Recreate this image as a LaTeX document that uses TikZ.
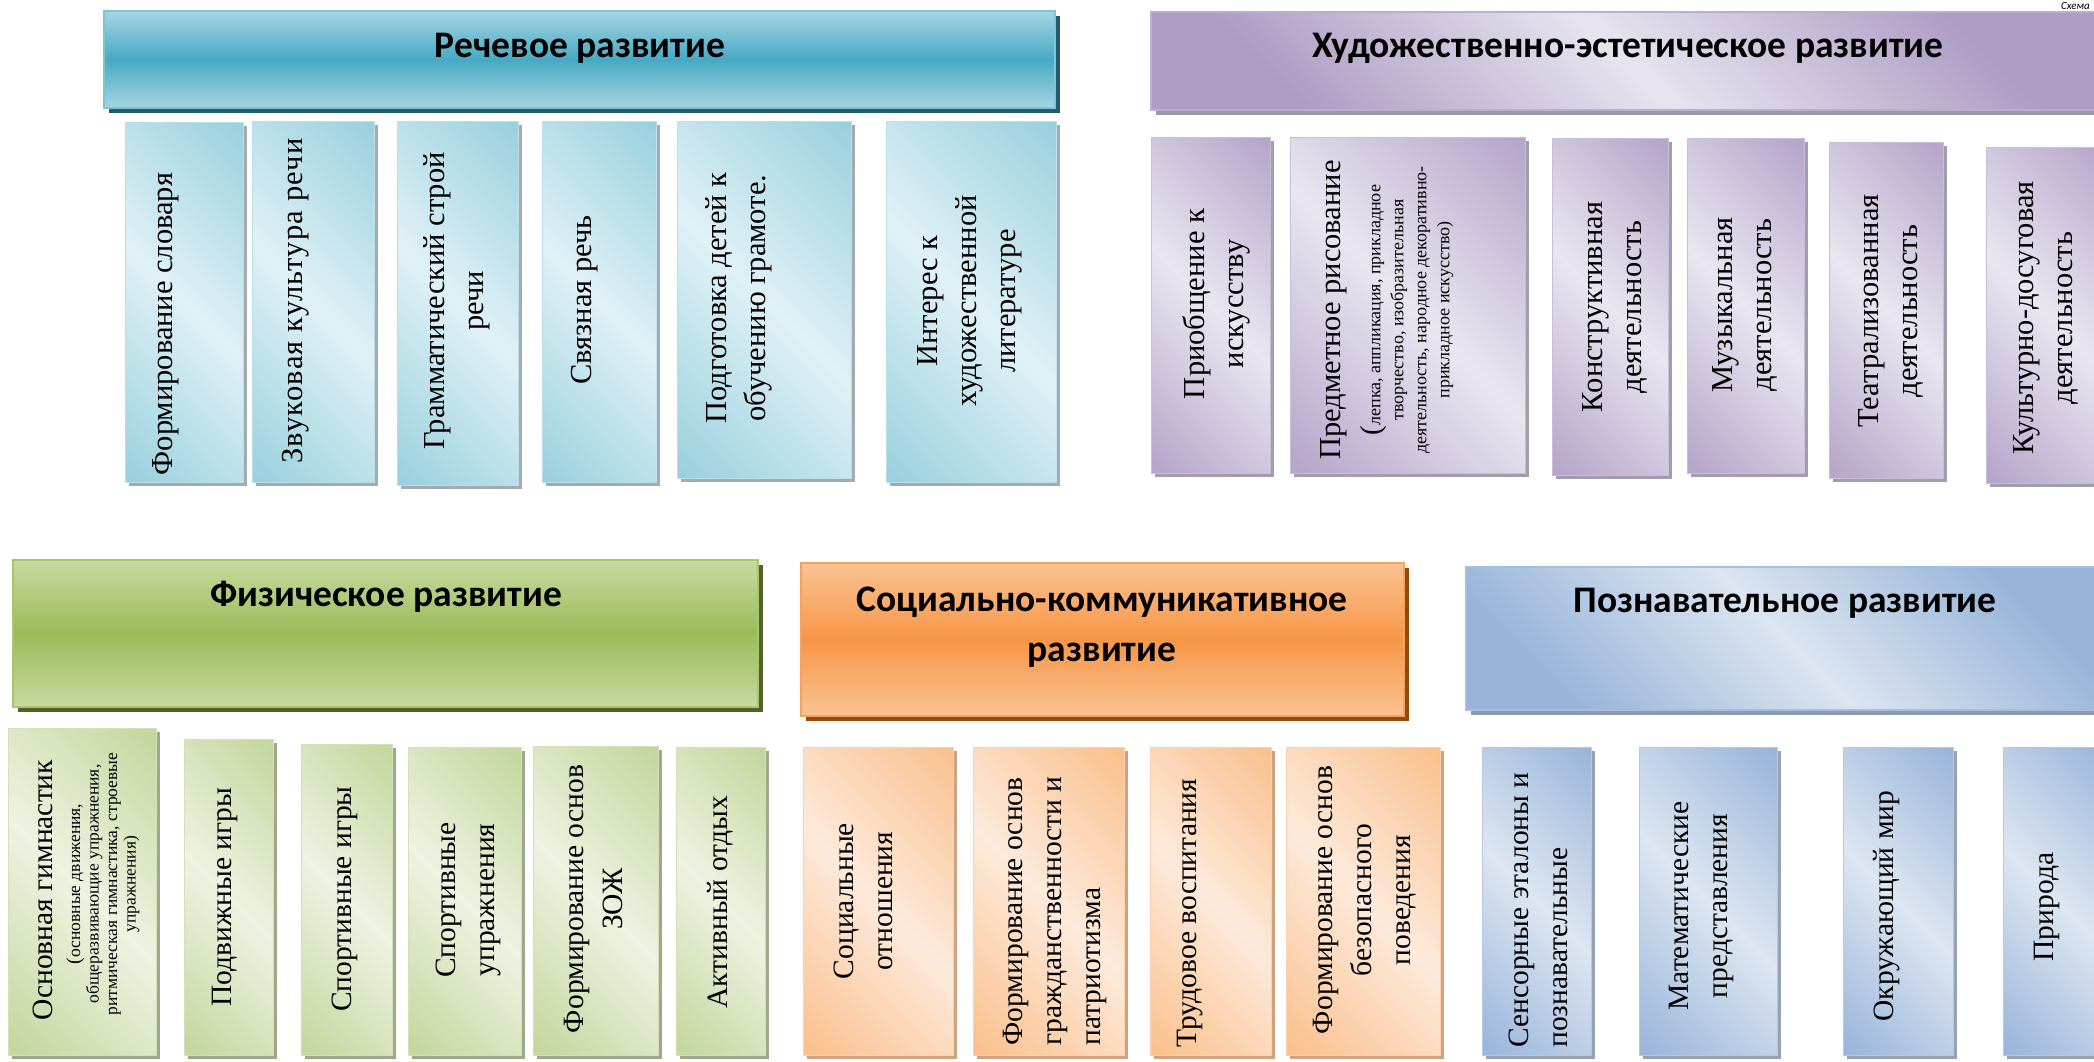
\documentclass[tikz,border=0pt]{standalone}
\usepackage{fontspec}
\setmainfont{Liberation Serif}
\newfontfamily\hdfont{Carlito}
\usetikzlibrary{shadows}
% teal
\definecolor{tL}{HTML}{E0F1F6}
\definecolor{tD}{HTML}{9BD1DF}
\definecolor{tH}{HTML}{A6D5E2}
\definecolor{tM}{HTML}{47A9C4}
\definecolor{tS}{HTML}{235B69}
\definecolor{tB}{HTML}{7CC4D7}
\definecolor{tSB}{HTML}{B8DFEA}
\definecolor{tSS}{HTML}{A3ABAE}
% purple
\definecolor{pL}{HTML}{EAE6F0}
\definecolor{pD}{HTML}{B6A6CB}
\definecolor{pH}{HTML}{AE9CC4}
\definecolor{pM}{HTML}{E8E4EF}
\definecolor{pS}{HTML}{9C97A6}
\definecolor{pB}{HTML}{BBAED0}
\definecolor{pSB}{HTML}{C9BDDA}
\definecolor{pSS}{HTML}{A29DAA}
% green
\definecolor{gL}{HTML}{EEF3E2}
\definecolor{gD}{HTML}{C4D79E}
\definecolor{gH}{HTML}{C7DAA0}
\definecolor{gM}{HTML}{9BBB59}
\definecolor{gS}{HTML}{4F6228}
\definecolor{gB}{HTML}{A9C66F}
\definecolor{gSB}{HTML}{D3E2B6}
\definecolor{gSS}{HTML}{9EA88A}
% orange
\definecolor{oL}{HTML}{FDEADB}
\definecolor{oD}{HTML}{FAC18F}
\definecolor{oH}{HTML}{FAC293}
\definecolor{oM}{HTML}{F79646}
\definecolor{oS}{HTML}{984807}
\definecolor{oB}{HTML}{F7A15E}
\definecolor{oSB}{HTML}{FBD2AE}
\definecolor{oSS}{HTML}{CFA37F}
% blue
\definecolor{bL}{HTML}{DDE6F2}
\definecolor{bD}{HTML}{9AB6DA}
\definecolor{bH}{HTML}{98B5D9}
\definecolor{bM}{HTML}{DCE5F1}
\definecolor{bS}{HTML}{8D9AAB}
\definecolor{bB}{HTML}{A6BFDE}
\definecolor{bSB}{HTML}{B5C9E3}
\definecolor{bSS}{HTML}{98A3B2}

\pgfdeclareverticalshading{shT}{100bp}{color(0bp)=(tD); color(16bp)=(tD); color(50bp)=(tL); color(84bp)=(tD); color(100bp)=(tD)}
\pgfdeclareverticalshading{shP}{100bp}{color(0bp)=(pD); color(16bp)=(pD); color(50bp)=(pL); color(84bp)=(pD); color(100bp)=(pD)}
\pgfdeclareverticalshading{shG}{100bp}{color(0bp)=(gD); color(16bp)=(gD); color(50bp)=(gL); color(84bp)=(gD); color(100bp)=(gD)}
\pgfdeclareverticalshading{shO}{100bp}{color(0bp)=(oD); color(16bp)=(oD); color(50bp)=(oL); color(84bp)=(oD); color(100bp)=(oD)}
\pgfdeclareverticalshading{shB}{100bp}{color(0bp)=(bD); color(16bp)=(bD); color(50bp)=(bL); color(84bp)=(bD); color(100bp)=(bD)}

\newcommand\bx[6]{\node[#2, minimum width={#5-#3}, minimum height={#6-#4}] (#1) at ({(#3+#5)/2},{(#4+#6)/2}) {};}

\tikzset{
  hdrv/.style n args={4}{rectangle, inner sep=0pt, draw=#4, line width=1.2pt,
     top color=#1, bottom color=#1, middle color=#2,
     drop shadow={shadow xshift=5pt, shadow yshift=-5pt, fill=#3, opacity=1}},
  hdrd/.style n args={4}{rectangle, inner sep=0pt, draw=#4, line width=1.2pt,
     left color=#1, right color=#1, middle color=#2, shading angle=-45,
     drop shadow={shadow xshift=5pt, shadow yshift=-5pt, fill=#3, opacity=1}},
  subbox/.style n args={3}{rectangle, inner sep=0pt, draw=#2, line width=1pt,
     shade, shading=#1, shading angle=-45,
     drop shadow={shadow xshift=4pt, shadow yshift=-4pt, fill=#3, opacity=1}},
  rhdr/.style={hdrv={tH}{tM}{tS}{tB}},
  phdr/.style={hdrd={pH}{pM}{pS}{pB}},
  ghdr/.style={hdrv={gH}{gM}{gS}{gB}},
  ohdr/.style={hdrv={oH}{oM}{oS}{oB}},
  bhdr/.style={hdrd={bH}{bM}{bS}{bB}},
  rsub/.style={subbox={shT}{tSB}{tSS}},
  psub/.style={subbox={shP}{pSB}{pSS}},
  gsub/.style={subbox={shG}{gSB}{gSS}},
  osub/.style={subbox={shO}{oSB}{oSS}},
  bsub/.style={subbox={shB}{bSB}{bSS}},
  vt/.style={rotate=90, inner sep=0pt, align=center, anchor=north, text=black,
     font=\fontsize{30.5}{39}\selectfont},
  vb/.style={vt, font=\fontsize{29.5}{39}\selectfont},
  vbl/.style={vb, align=left},
  ht/.style={inner sep=0pt, text=black, align=center,
     font=\hdfont\bfseries\fontsize{37.5}{50}\selectfont},
}

\begin{document}
\begin{tikzpicture}[x=1pt,y=-1pt]
\useasboundingbox (0,0) rectangle (2094,1061);
\fill[white] (0,0) rectangle (2094,1061);

% ---------- Речевое развитие
\bx{rh}{rhdr}{104}{11}{1055}{108}
\node[ht, anchor=base] (rht) at (580,57) {Речевое развитие};
\bx{r1}{rsub}{125}{122}{243}{482}
\bx{r2}{rsub}{252}{121}{374}{482}
\bx{r3}{rsub}{397}{121}{518}{485}
\bx{r4}{rsub}{542}{121}{656}{482}
\bx{r5}{rsub}{677}{121}{851}{478}
\bx{r6}{rsub}{886}{121}{1056}{482}
\node[vt] (r1t) at (152,324) {Формирование словаря};
\node[vt] (r2t) at (282,301) {\addfontfeature{LetterSpace=4}Звуковая культура речи};
\node[vt] (r3t) at (423,301) {Грамматический строй\\речи};
\node[vt] (r4t) at (571,300) {Связная речь};
\node[vt] (r5t) at (705,298) {Подготовка детей к\\обучению грамоте.};
\node[vt] (r6t) at (917,301) {Интерес к\\художественной\\литературе};

% ---------- Художественно-эстетическое развитие
\node[anchor=base east, inner sep=0pt, font=\hdfont\itshape\fontsize{11}{12}\selectfont] (sch) at (2090,9) {Схема};
\bx{hh}{phdr}{1151}{12}{2105}{110}
\node[ht, anchor=base] (hht) at (1628,57) {Художественно-эстетическое развитие};
\bx{p1}{psub}{1151}{137}{1270}{473}
\bx{p2}{psub}{1290}{137}{1525}{473}
\bx{p3}{psub}{1552}{138}{1668}{475}
\bx{p4}{psub}{1687}{138}{1804}{473}
\bx{p5}{psub}{1829}{142}{1943}{478}
\bx{p6}{psub}{1986}{147}{2112}{483}
\node[vt] (p1t) at (1182,304) {Приобщение к\\искусству};
\node[vt] (p2t) at (1320,310) {Предметное рисование};
\node[vt, font=\fontsize{18}{23}\selectfont] (p2s) at (1360,310)
  {{\fontsize{29}{23}\selectfont(}лепка, аппликация, прикладное\\творчество, изобразительная\\деятельность, народное декоративно-\\прикладное искусство)};
\node[vt] (p3t) at (1582,307) {Конструктивная\\деятельность};
\node[vt] (p4t) at (1712,305) {Музыкальная\\деятельность};
\node[vt] (p5t) at (1858,311) {Театрализованная\\деятельность};
\node[vt] (p6t) at (2013,318) {Культурно-досуговая\\деятельность};

% ---------- Физическое развитие
\bx{fh}{ghdr}{13}{560}{758}{707}
\node[ht, anchor=base] (fht) at (386,606) {Физическое развитие};
\bx{g1}{gsub}{8}{728}{156}{1055}
\bx{g2}{gsub}{184}{739}{273}{1055}
\bx{g3}{gsub}{301}{744}{392}{1055}
\bx{g4}{gsub}{408}{747}{521}{1055}
\bx{g5}{gsub}{533}{746}{658}{1055}
\bx{g6}{gsub}{676}{747}{765}{1055}
\node[vb] (g1t) at (33,890) {Основная гимнастик};
\node[vb, font=\fontsize{17.5}{18.5}\selectfont] (g1s) at (66,884)
  {{\fontsize{20}{18.5}\selectfont(}основные движения,\\общеразвивающие упражнения,\\ритмическая гимнастика, строевые\\упражнения)};
\node[vb] (g2t) at (212,897) {Подвижные игры};
\node[vb] (g3t) at (332,899) {Спортивные игры};
\node[vb] (g4t) at (436,900) {Спортивные\\упражнения};
\node[vb] (g5t) at (564,899) {Формирование основ\\ЗОЖ};
\node[vb] (g6t) at (707,902) {Активный отдых};

% ---------- Социально-коммуникативное развитие
\bx{sh}{ohdr}{801}{563}{1404}{716}
\node[ht, anchor=center] (sht) at (1102,627) {Социально-коммуникативное\\развитие};
\bx{o1}{osub}{803}{747}{953}{1055}
\bx{o2}{osub}{973}{747}{1124}{1055}
\bx{o3}{osub}{1150}{747}{1271}{1055}
\bx{o4}{osub}{1286}{747}{1440}{1055}
\node[vb] (o1t) at (834,901) {Социальные\\отношения};
\node[vbl] (o2t) at (1003,911) {Формирование основ\\гражданственности и\\патриотизма};
\node[vb] (o3t) at (1177,913) {Трудовое воспитания};
\node[vb] (o4t) at (1313,900) {Формирование основ\\безопасного\\поведения};

% ---------- Познавательное развитие
\bx{ph}{bhdr}{1466}{567}{2104}{710}
\node[ht, anchor=base] (pht) at (1785,612) {Познавательное развитие};
\bx{b1}{bsub}{1482}{747}{1591}{1055}
\bx{b2}{bsub}{1639}{747}{1777}{1055}
\bx{b3}{bsub}{1843}{747}{1953}{1055}
\bx{b4}{bsub}{2003}{747}{2112}{1055}
\node[vbl] (b1t) at (1509,910) {Сенсорные эталоны и\\познавательные};
\node[vb] (b2t) at (1669,906) {Математические\\представления};
\node[vb] (b3t) at (1873,906) {Окружающий мир};
\node[vb] (b4t) at (2034,907) {Природа};
\end{tikzpicture}
\end{document}
